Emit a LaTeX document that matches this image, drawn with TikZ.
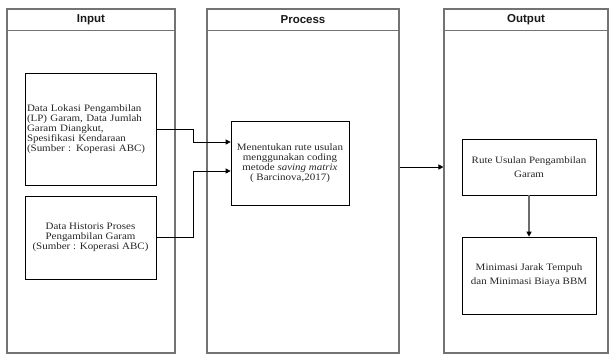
\documentclass[tikz,border=0pt]{standalone}
\usepackage{fontspec}
\setmainfont{Liberation Serif}[FakeStretch=1.12]
\newfontfamily\headfont{Liberation Sans}
\usetikzlibrary{arrows.meta}

\begin{document}
\begin{tikzpicture}[x=1pt,y=-1pt,
  frame/.style={draw=gray!90!black, line width=1.1pt, inner sep=0pt},
  box/.style={draw=black, line width=0.7pt, inner sep=2pt, font=\fontsize{9.8}{10}\selectfont, text=black!85},
  head/.style={font=\headfont\bfseries\fontsize{11.5}{13}\selectfont, text=black!90},
  link/.style={draw=black, line width=0.7pt, -{Triangle[length=5pt,width=5pt]}},
]
\useasboundingbox (0,0) rectangle (609,356);

% column frames
\node[frame, minimum width=168pt, minimum height=344pt] (fin)   at (91,181)  {};
\node[frame, minimum width=192pt, minimum height=344pt] (fproc) at (303,181) {};
\node[frame, minimum width=164pt, minimum height=344pt] (fout)  at (526,181) {};

% header bands
\foreach \f in {fin,fproc,fout}
  \draw[frame] ([yshift=-22pt]\f.north west) -- ([yshift=-22pt]\f.north east);
\node[head] (hin)   at ([yshift=-11pt]fin.north)   {Input};
\node[head] (hproc) at ([yshift=-11pt]fproc.north) {Process};
\node[head] (hout)  at ([yshift=-11pt]fout.north)  {Output};

% input boxes
\node[box, minimum width=131pt, minimum height=112pt, text width=127pt, align=left] (in1) at (90.5,129)
  {Data Lokasi Pengambilan\\(LP) Garam, Data Jumlah\\Garam Diangkut,\\Spesifikasi Kendaraan\\(Sumber : Koperasi ABC)\\[5pt]};
\node[box, minimum width=131pt, minimum height=83pt, align=center] (in2) at (90.5,237.5)
  {Data Historis Proses\\Pengambilan Garam\\(Sumber : Koperasi ABC)};

% process box
\node[box, minimum width=118pt, minimum height=84pt, align=center] (proc) at (290,163)
  {Menentukan rute usulan\\menggunakan coding\\metode \textit{saving matrix}\\( Barcinova,2017)};

% output boxes
\node[box, minimum width=134pt, minimum height=56pt, align=center, font=\fontsize{9.8}{14}\selectfont] (out1) at (529,167)
  {Rute Usulan Pengambilan\\Garam};
\node[box, minimum width=134pt, minimum height=77pt, align=center, font=\fontsize{9.8}{14}\selectfont] (out2) at (529,275.5)
  {Minimasi Jarak Tempuh\\dan Minimasi Biaya BBM};

% connectors
\draw[link] (in1.east) -- ++(37,0) |- ([yshift=21pt]proc.west);
\draw[link] (in2.east) -- ++(37,0) |- ([yshift=-8pt]proc.west);
\draw[link] ([yshift=14pt]fproc.east) -- ([yshift=14pt]fout.west);
\draw[link, draw=gray!85!black, line width=1.3pt, -{Triangle[length=5pt,width=5pt,color=black]}] (out1.south) -- (out2.north);
\end{tikzpicture}
\end{document}
